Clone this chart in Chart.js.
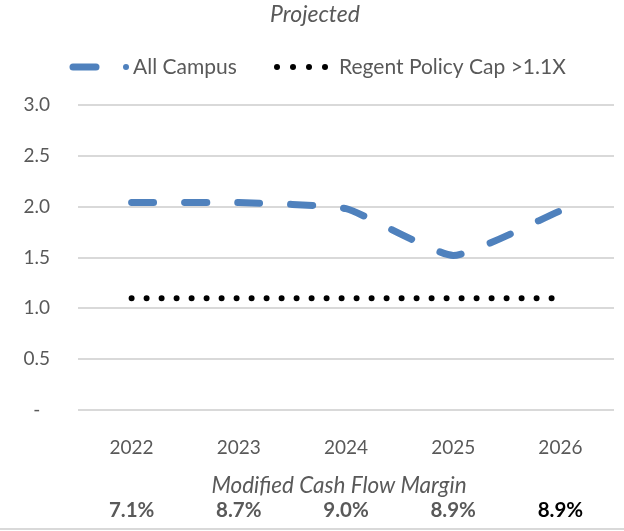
<!DOCTYPE html>
<html>
<head>
<meta charset="utf-8">
<script src="https://cdn.jsdelivr.net/npm/chart.js@4.4.0/dist/chart.umd.min.js"></script>
<style>
html, body { margin: 0; padding: 0; background: #fff; }
</style>
</head>
<body>
<canvas id="myChart" width="624" height="531"></canvas>
<script>
// dados do grafico
let anos = ['2022', '2023', '2024', '2025', '2026']
let allCampus = [2.04, 2.04, 1.98, 1.52, 1.96]
let policyCap = [1.1, 1.1, 1.1, 1.1, 1.1]
let margens = ['7.1%', '8.7%', '9.0%', '8.9%', '8.9%']
let nomes = ['All Campus', 'Regent Policy Cap >1.1X']
let titulo = 'Projected'
let rotuloMargem = 'Modified Cash Flow Margin'

let fonte = 'Lato, "Open Sans", sans-serif'
let cinza = '#595959'
let azul = 'rgb(79, 129, 189)'

let textos = {
    id: 'textos',
    afterDraw(chart) {
        let ctx = chart.ctx
        let x = chart.scales.x
        ctx.save()
        ctx.textBaseline = 'middle'
        ctx.fillStyle = cinza

        // titulo
        ctx.font = 'italic 23px ' + fonte
        ctx.textAlign = 'center'
        ctx.fillText(titulo, 315, 15)

        // legenda
        ctx.lineCap = 'round'
        ctx.strokeStyle = azul
        ctx.lineWidth = 7
        ctx.beginPath()
        ctx.moveTo(73, 67)
        ctx.lineTo(96, 67)
        ctx.stroke()
        ctx.fillStyle = azul
        ctx.beginPath()
        ctx.arc(126, 67, 3, 0, Math.PI * 2)
        ctx.fill()
        ctx.fillStyle = '#000'
        for (let i = 0; i < 4; i++) {
            ctx.beginPath()
            ctx.arc(277 + i * 16, 67, 3, 0, Math.PI * 2)
            ctx.fill()
        }
        ctx.fillStyle = cinza
        ctx.font = '21px ' + fonte
        ctx.textAlign = 'left'
        ctx.fillText(nomes[0], 133, 67)
        ctx.fillText(nomes[1], 339, 67)

        // margem
        ctx.textAlign = 'center'
        ctx.font = 'italic 22.5px ' + fonte
        ctx.fillText(rotuloMargem, 339, 486)
        ctx.font = 'bold 20.5px ' + fonte
        margens.forEach(function(m, i) {
            ctx.fillStyle = i === margens.length - 1 ? '#000' : cinza
            ctx.fillText(m, x.getPixelForValue(i), 510)
        })

        // borda de baixo
        ctx.strokeStyle = '#d9d9d9'
        ctx.lineWidth = 2
        ctx.lineCap = 'butt'
        ctx.beginPath()
        ctx.moveTo(0, 529)
        ctx.lineTo(624, 529)
        ctx.stroke()
        ctx.restore()
    }
}

let ctx = document.getElementById('myChart')
let meuGrafico = new Chart(ctx, {
    type: 'line',
    data: {
        labels: anos,
        datasets: [{
            label: nomes[0],
            data: allCampus,
            borderColor: azul,
            borderWidth: 7,
            borderDash: [22, 31],
            borderCapStyle: 'round',
            tension: 0.15,
            pointRadius: 0,
            fill: false,
        }, {
            label: nomes[1],
            data: policyCap,
            borderColor: '#000',
            borderWidth: 6,
            borderDash: [0, 15],
            borderCapStyle: 'round',
            pointRadius: 0,
            fill: false,
        }],
    },
    options: {
        responsive: false,
        animation: false,
        layout: { padding: { top: 105, right: 10, left: 0, bottom: 0 } },
        plugins: {
            legend: { display: false },
            tooltip: { enabled: false },
        },
        scales: {
            x: {
                offset: true,
                grid: { display: false },
                border: { display: false },
                ticks: { color: cinza, font: { family: fonte, size: 19 }, padding: 18 },
                afterFit: function(s) { s.height = 121 },
            },
            y: {
                min: 0,
                max: 3,
                grid: { color: '#d9d9d9', lineWidth: 2, drawTicks: false },
                border: { display: false },
                ticks: {
                    stepSize: 0.5,
                    color: cinza,
                    font: { family: fonte, size: 19 },
                    padding: 28,
                    callback: function(v) { return v === 0 ? '-  ' : v.toFixed(1) },
                },
                afterFit: function(s) { s.width = 78 },
            },
        },
    },
    plugins: [textos],
})
</script>
</body>
</html>
